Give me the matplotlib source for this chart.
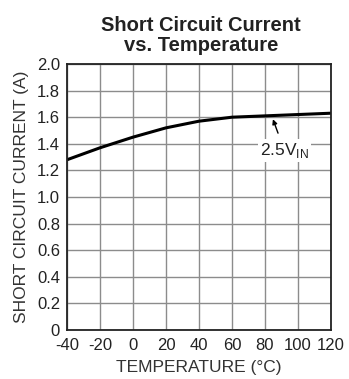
import matplotlib
matplotlib.use("Agg")
import matplotlib.pyplot as plt

# short circuit current vs. temperature, 2.5V input
temperature = [-40, -20, 0, 20, 40, 60, 80, 100, 120]
current = [1.28, 1.37, 1.45, 1.52, 1.57, 1.60, 1.61, 1.62, 1.63]

x_ticks = [-40, -20, 0, 20, 40, 60, 80, 100, 120]
y_ticks = [0, 0.2, 0.4, 0.6, 0.8, 1.0, 1.2, 1.4, 1.6, 1.8, 2.0]
y_labels = ["0", "0.2", "0.4", "0.6", "0.8", "1.0", "1.2", "1.4", "1.6", "1.8", "2.0"]

plt.rcParams["font.family"] = ["Liberation Sans", "DejaVu Sans"]
plt.rcParams["axes.unicode_minus"] = False

fig = plt.figure(figsize=(3.49, 3.79), dpi=100)
ax = fig.add_axes([67 / 349, 1 - 330 / 379, 264 / 349, 266 / 379])

ax.plot(temperature, current, color="black", linewidth=2.2, solid_capstyle="butt")

ax.set_xlim(-40, 120)
ax.set_ylim(0, 2.0)
ax.set_xticks(x_ticks)
ax.set_yticks(y_ticks)
ax.set_yticklabels(y_labels)
ax.tick_params(length=0, labelsize=12, colors="#222222")
ax.tick_params(axis="y", pad=5)
ax.tick_params(axis="x", pad=6)
ax.grid(True, color="#8c8c8c", linewidth=1.0)
ax.set_axisbelow(True)
for s in ax.spines.values():
    s.set_color("#222222")
    s.set_linewidth(1.3)

ax.set_xlabel("TEMPERATURE (°C)", fontsize=12.5, color="#333333", labelpad=5)
ax.set_ylabel("SHORT CIRCUIT CURRENT (A)", fontsize=12.5, color="#333333", labelpad=6)

ax.annotate("", xy=(84.8, 1.585), xytext=(87.9, 1.48),
            arrowprops=dict(arrowstyle="-|>", color="black", lw=1.0,
                            mutation_scale=7, shrinkA=0, shrinkB=0))
ax.text(77, 1.316, r"2.5V$_{\mathregular{IN}}$", fontsize=12.5, color="#222222",
        va="baseline", ha="left",
        bbox=dict(facecolor="white", edgecolor="none", pad=1.5))

fig.text(0.576, 0.958, "Short Circuit Current\nvs. Temperature", ha="center", va="top",
         fontsize=14.5, fontweight="bold", color="#222222", linespacing=1.08)

fig.savefig("out.png", dpi=100, facecolor="white")
